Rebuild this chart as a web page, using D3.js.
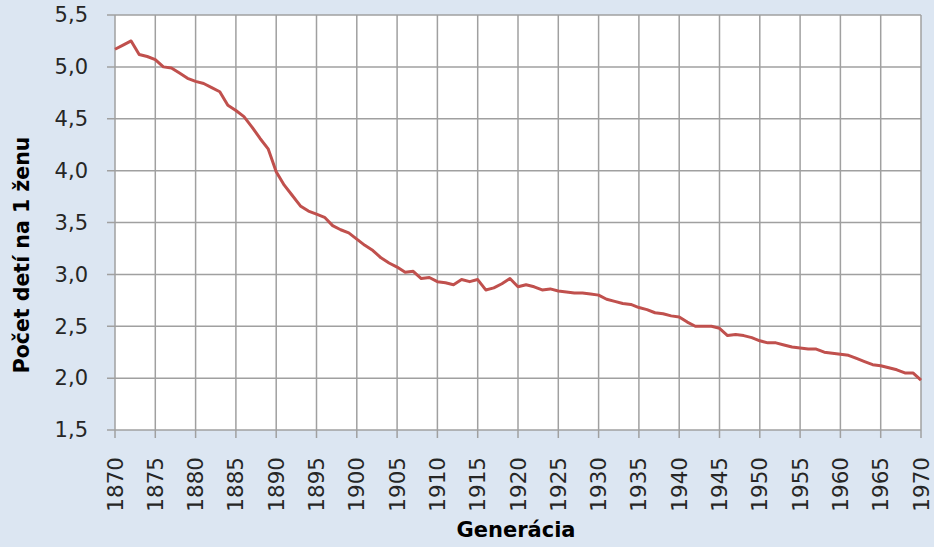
<!DOCTYPE html>
<html>
<head>
<meta charset="utf-8">
<script src="https://cdn.jsdelivr.net/npm/d3@7"></script>
<style>
  html, body { margin: 0; padding: 0; background: #dce6f2; }
  svg { display: block; }
</style>
</head>
<body>
<svg id="chart" width="934" height="547"></svg>
<script>
// generácia (rok narodenia žien)
const years = d3.range(1870, 1971);
// počet detí na 1 ženu, odčítané z grafu
const fertility = [
  5.17, 5.21, 5.25, 5.12, 5.10, 5.07, 5.00, 4.99, 4.94, 4.89,
  4.86, 4.84, 4.80, 4.76, 4.63, 4.58, 4.52, 4.42, 4.31, 4.21,
  3.99, 3.86, 3.76, 3.66, 3.61, 3.58, 3.55, 3.47, 3.43, 3.40,
  3.34, 3.28, 3.23, 3.16, 3.11, 3.07, 3.02, 3.03, 2.96, 2.97,
  2.93, 2.92, 2.90, 2.95, 2.93, 2.95, 2.85, 2.87, 2.91, 2.96,
  2.88, 2.90, 2.88, 2.85, 2.86, 2.84, 2.83, 2.82, 2.82, 2.81,
  2.80, 2.76, 2.74, 2.72, 2.71, 2.68, 2.66, 2.63, 2.62, 2.60,
  2.59, 2.54, 2.50, 2.50, 2.50, 2.48, 2.41, 2.42, 2.41, 2.39,
  2.36, 2.34, 2.34, 2.32, 2.30, 2.29, 2.28, 2.28, 2.25, 2.24,
  2.23, 2.22, 2.19, 2.16, 2.13, 2.12, 2.10, 2.08, 2.05, 2.05,
  1.98
];
const yTicks = [1.5, 2.0, 2.5, 3.0, 3.5, 4.0, 4.5, 5.0, 5.5];
const xTicks = d3.range(1870, 1971, 5);
const yTitle = 'Počet detí na 1 ženu';
const xTitle = 'Generácia';

const svg = d3.select('#chart');
const m = { left: 115, right: 921, top: 15, bottom: 430 };

const x = d3.scaleLinear().domain([1870, 1970]).range([m.left, m.right]);
const y = d3.scaleLinear().domain([1.5, 5.5]).range([m.bottom, m.top]);

const font = '"DejaVu Sans", Verdana, sans-serif';
const gridColor = '#a0a0a0';

svg.append('rect')
  .attr('x', m.left).attr('y', m.top)
  .attr('width', m.right - m.left).attr('height', m.bottom - m.top)
  .attr('fill', '#fff');

// mriežka
svg.append('g')
  .selectAll('line')
  .data(yTicks)
  .join('line')
  .attr('x1', m.left - 8).attr('x2', m.right)
  .attr('y1', d => y(d)).attr('y2', d => y(d))
  .attr('stroke', gridColor).attr('stroke-width', 1.5);

svg.append('g')
  .selectAll('line')
  .data(xTicks)
  .join('line')
  .attr('x1', d => x(d)).attr('x2', d => x(d))
  .attr('y1', m.top).attr('y2', m.bottom + 8)
  .attr('stroke', gridColor).attr('stroke-width', 1.5);

// popisy osi y
const fmt = d => d.toFixed(1).replace('.', ',');
svg.append('g')
  .selectAll('text')
  .data(yTicks)
  .join('text')
  .attr('x', 88)
  .attr('y', d => y(d))
  .attr('dy', '0.35em')
  .attr('text-anchor', 'end')
  .attr('font-family', font)
  .attr('font-size', 21)
  .attr('fill', '#262626')
  .text(fmt);

// popisy osi x (otočené)
svg.append('g')
  .selectAll('text')
  .data(xTicks)
  .join('text')
  .attr('transform', d => `translate(${x(d)},${m.bottom + 27}) rotate(-90)`)
  .attr('dy', '0.35em')
  .attr('text-anchor', 'end')
  .attr('font-family', font)
  .attr('font-size', 21.5)
  .attr('fill', '#262626')
  .text(d => d);

// krivka
const line = d3.line()
  .x((d, i) => x(years[i]))
  .y(d => y(d));

svg.append('path')
  .datum(fertility)
  .attr('d', line)
  .attr('fill', 'none')
  .attr('stroke', '#c0504d')
  .attr('stroke-width', 3)
  .attr('stroke-linejoin', 'round');

// názvy osí
svg.append('text')
  .attr('transform', 'translate(22,255) rotate(-90)')
  .attr('dy', '0.35em')
  .attr('text-anchor', 'middle')
  .attr('font-family', font)
  .attr('font-weight', 'bold')
  .attr('font-size', 20.5)
  .attr('fill', '#000')
  .text(yTitle);

svg.append('text')
  .attr('x', 516).attr('y', 537)
  .attr('text-anchor', 'middle')
  .attr('font-family', font)
  .attr('font-weight', 'bold')
  .attr('font-size', 21)
  .attr('fill', '#000')
  .text(xTitle);
</script>
</body>
</html>
